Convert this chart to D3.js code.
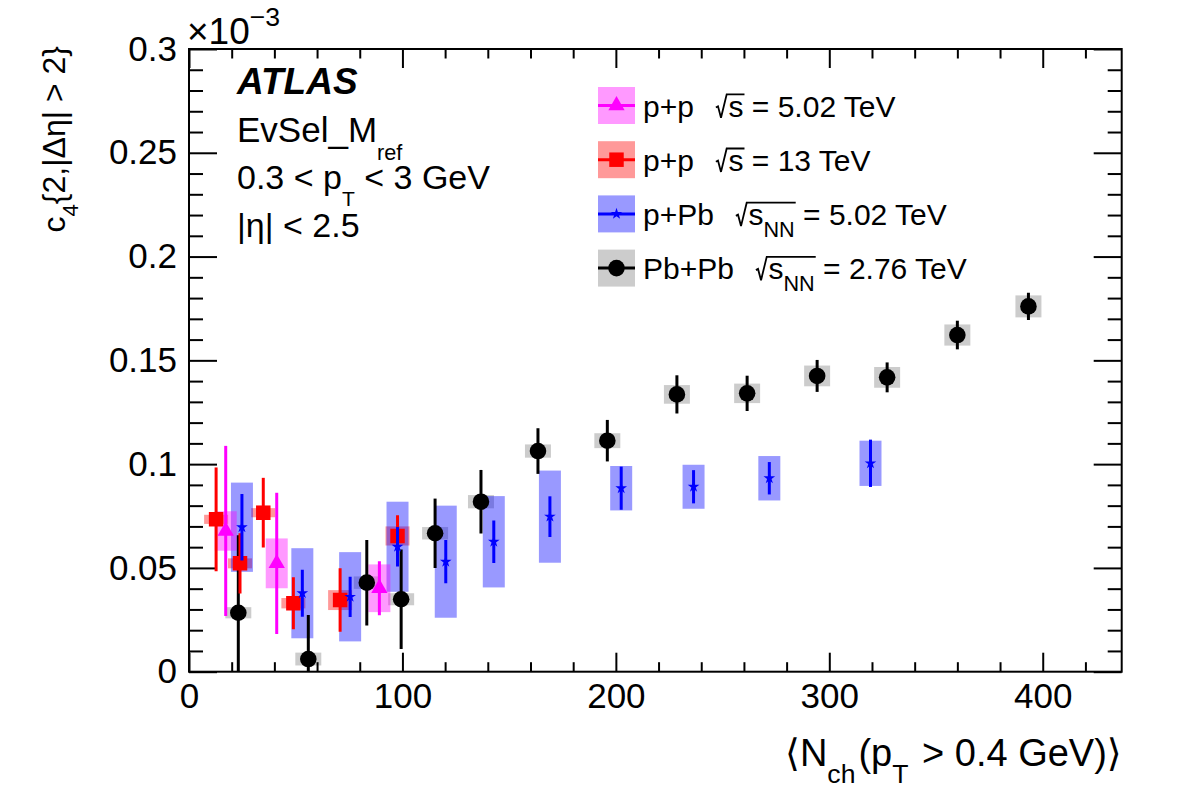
<!DOCTYPE html>
<html><head><meta charset="utf-8">
<script src="https://cdn.jsdelivr.net/npm/d3@7"></script>
<style>
body{margin:0;background:#fff}
text{font-family:"Liberation Sans",Arial,Helvetica,"DejaVu Sans",sans-serif;fill:#000;white-space:pre}
</style>
</head><body>
<svg id="c" width="1182" height="800" xmlns="http://www.w3.org/2000/svg"></svg>
<script>
// ---------------- data (c4 values in units of 10^-3) ----------------
const xTicks = [0, 100, 200, 300, 400];
const xTickLabels = ["0", "100", "200", "300", "400"];
const yTicks = [0, 0.05, 0.1, 0.15, 0.2, 0.25, 0.3];
const yTickLabels = ["0", "0.05", "0.1", "0.15", "0.2", "0.25", "0.3"];

const pp502_x    = [17.2, 41.1, 89.2];
const pp502_y    = [0.0678, 0.0522, 0.0402];
const pp502_stat = [0.041, 0.034, 0.013];
const pp502_sys  = [0.0095, 0.012, 0.0115];

const pp13_x    = [12.7, 23.9, 34.8, 48.9, 70.8, 97.7];
const pp13_y    = [0.0734, 0.0522, 0.0766, 0.0330, 0.0345, 0.0654];
const pp13_stat = [0.025, 0.0145, 0.0168, 0.0125, 0.0153, 0.0100];
const pp13_sys  = [0.0022, 0.0024, 0.0022, 0.0025, 0.0048, 0.0046];

const pPb_x    = [24.8, 53.1, 75.5, 97.7, 120.3, 142.8, 169.1, 202.5, 236.4, 271.9, 319.3];
const pPb_y    = [0.0696, 0.0378, 0.0361, 0.0602, 0.0530, 0.0626, 0.0747, 0.0884, 0.0891, 0.0932, 0.1004];
const pPb_stat = [0.016, 0.0113, 0.0097, 0.0095, 0.0104, 0.0102, 0.0098, 0.0104, 0.0080, 0.0078, 0.0114];
const pPb_sys  = [0.0215, 0.0217, 0.0215, 0.0217, 0.027, 0.022, 0.0222, 0.0107, 0.0106, 0.0107, 0.0109];

const PbPb_x    = [23.1, 55.9, 83.3, 99.4, 115.3, 136.8, 163.5, 196.0, 228.6, 261.5, 294.3, 327.1, 360.0, 393.3];
const PbPb_y    = [0.0284, 0.0061, 0.0429, 0.0349, 0.0667, 0.0819, 0.1063, 0.1113, 0.1336, 0.1341, 0.1425, 0.1418, 0.1622, 0.1760];
const PbPb_stat = [0.0373, 0.0212, 0.0206, 0.0240, 0.0167, 0.0153, 0.0110, 0.0100, 0.0092, 0.0085, 0.0077, 0.0072, 0.0069, 0.0066];
const PbPb_sys  = [0.0027, 0.0031, 0.0030, 0.0029, 0.0030, 0.0032, 0.0032, 0.0036, 0.0045, 0.0047, 0.0050, 0.0050, 0.0051, 0.0053];

// ---------------- layout ----------------
const svg = d3.select("#c");
const L = 189, R = 1121.7, T = 49, B = 671.7;
const x = d3.scaleLinear().domain([0, 437]).range([L, R]);
const y = d3.scaleLinear().domain([0, 0.3]).range([B, T]);

const zip = (xs, ys, st, sy) => xs.map((v, i) => ({x: v, y: ys[i], stat: st[i], sys: sy[i]}));
const series = {
  PbPb: {data: zip(PbPb_x, PbPb_y, PbPb_stat, PbPb_sys), color: "#000000", boxFill: "#000000", boxOp: 0.2, boxW: 26, sym: d3.symbolCircle, size: 216},
  pp13: {data: zip(pp13_x, pp13_y, pp13_stat, pp13_sys), color: "#ff0000", boxFill: "#ff0000", boxOp: 0.4, boxW: 24, sym: d3.symbolSquare, size: 210},
  pPb:  {data: zip(pPb_x, pPb_y, pPb_stat, pPb_sys), color: "#0000ff", boxFill: "#0000ff", boxOp: 0.4, boxW: 22, sym: d3.symbolStar, size: 42},
  pp502:{data: zip(pp502_x, pp502_y, pp502_stat, pp502_sys), color: "#ff00ff", boxFill: "#ff00ff", boxOp: 0.4, boxW: 22, sym: d3.symbolTriangle, size: 115}
};
const drawOrder = ["PbPb", "pp13", "pPb", "pp502"];

// rich text helper
function rich(parent, segs, opt) {
  const size = opt.size;
  const g = parent.append("g");
  let cx = 0;
  const rads = [];
  segs.forEach(s => {
    if (s.k === "rad") {
      const r0 = cx;
      cx += size * 0.42;
      rads.push({x0: r0, x1: cx});
      return;
    }
    const sub = s.k === "sub", sup = s.k === "sup";
    const fs = (sub || sup) ? size * (opt.subScale || 0.7) : size;
    const dy = sub ? size * (opt.subDrop || 0.45) : sup ? -size * (opt.supRise || 0.6) : 0;
    const t = g.append("text").attr("x", cx).attr("y", dy).attr("font-size", fs)
      .attr("xml:space", "preserve").text(s.t);
    if (opt.weight) t.attr("font-weight", opt.weight);
    if (opt.style) t.attr("font-style", opt.style);
    const w = t.node().getComputedTextLength();
    cx += w + ((sub && opt.subGap) ? opt.subGap : 0);
    if (s.o && rads.length) rads[rads.length - 1].x1 = cx + 1;
  });
  rads.forEach(r => {
    const h = size * 0.74;
    g.append("path")
      .attr("d", `M${r.x0},${-size*0.30} L${r.x0+size*0.07},${-size*0.34} L${r.x0+size*0.17},${size*0.04} L${r.x0+size*0.36},${-h} L${r.x1},${-h}`)
      .attr("fill", "none").attr("stroke", "#000").attr("stroke-width", 1.8).attr("stroke-linejoin", "miter");
  });
  return {g, width: cx};
}

// ---------------- axes ----------------
const xMinor = d3.range(0, 437, 20).filter(v => v % 100 !== 0);
const yMinor = d3.range(0, 31).map(i => i / 100).filter(v => Math.round(v * 100) % 5 !== 0);

function styleAxis(sel) {
  sel.select(".domain").remove();
  sel.selectAll(".tick line").attr("stroke", "#000").attr("stroke-width", 2);
  sel.selectAll(".tick text").attr("font-size", 35).attr("fill", "#000")
     .attr("font-family", '"Liberation Sans",Arial,sans-serif');
}
// bottom
svg.append("g").attr("transform", `translate(0,${B})`)
  .call(d3.axisBottom(x).tickValues(xTicks).tickSize(-19).tickPadding(11).tickFormat((d, i) => xTickLabels[i]))
  .call(styleAxis);
svg.append("g").attr("transform", `translate(0,${B})`)
  .call(d3.axisBottom(x).tickValues(xMinor).tickSize(-9.5).tickFormat(""))
  .call(styleAxis);
// top
svg.append("g").attr("transform", `translate(0,${T})`)
  .call(d3.axisTop(x).tickValues(xTicks).tickSize(-19).tickFormat(""))
  .call(styleAxis);
svg.append("g").attr("transform", `translate(0,${T})`)
  .call(d3.axisTop(x).tickValues(xMinor).tickSize(-9.5).tickFormat(""))
  .call(styleAxis);
// left
svg.append("g").attr("transform", `translate(${L},0)`)
  .call(d3.axisLeft(y).tickValues(yTicks).tickSize(-28).tickPadding(12).tickFormat((d, i) => yTickLabels[i]))
  .call(styleAxis);
svg.append("g").attr("transform", `translate(${L},0)`)
  .call(d3.axisLeft(y).tickValues(yMinor).tickSize(-14).tickFormat(""))
  .call(styleAxis);
// right
svg.append("g").attr("transform", `translate(${R},0)`)
  .call(d3.axisRight(y).tickValues(yTicks).tickSize(-28).tickFormat(""))
  .call(styleAxis);
svg.append("g").attr("transform", `translate(${R},0)`)
  .call(d3.axisRight(y).tickValues(yMinor).tickSize(-14).tickFormat(""))
  .call(styleAxis);

// ---------------- data ----------------
svg.append("clipPath").attr("id", "clip").append("rect")
  .attr("x", L).attr("y", T).attr("width", R - L).attr("height", B - T);
const plot = svg.append("g").attr("clip-path", "url(#clip)");

// systematic boxes
drawOrder.forEach(k => {
  const s = series[k];
  plot.append("g").selectAll("rect").data(s.data).join("rect")
    .attr("x", d => x(d.x) - s.boxW / 2)
    .attr("y", d => y(d.y + d.sys))
    .attr("width", s.boxW)
    .attr("height", d => y(d.y - d.sys) - y(d.y + d.sys))
    .attr("fill", s.boxFill).attr("fill-opacity", s.boxOp);
});
// stat bars + markers
drawOrder.forEach(k => {
  const s = series[k];
  const g = plot.append("g");
  g.selectAll("line").data(s.data).join("line")
    .attr("x1", d => x(d.x)).attr("x2", d => x(d.x))
    .attr("y1", d => y(d.y + d.stat)).attr("y2", d => y(d.y - d.stat))
    .attr("stroke", s.color).attr("stroke-width", 3);
  g.selectAll("path").data(s.data).join("path")
    .attr("transform", d => `translate(${x(d.x)},${y(d.y)})`)
    .attr("d", d3.symbol().type(s.sym).size(s.size))
    .attr("fill", s.color);
});

// frame
svg.append("rect").attr("x", L).attr("y", T).attr("width", R - L).attr("height", B - T)
  .attr("fill", "none").attr("stroke", "#000").attr("stroke-width", 2);

// ---------------- texts ----------------
const ex = rich(svg, [{t: "\u00d710"}, {t: "\u22123", k: "sup"}], {size: 37, subScale: 0.72, supRise: 0.5});
ex.g.attr("transform", "translate(187,44)");

const xt = rich(svg, [{t: "\u27e8N"}, {t: "ch", k: "sub"}, {t: "(p"}, {t: "T", k: "sub"}, {t: " > 0.4 GeV)\u27e9"}],
  {size: 38, subDrop: 0.45, subGap: 3});
xt.g.attr("transform", `translate(${R - xt.width},766)`);

const ytg = svg.append("g").attr("transform", "translate(65,46) rotate(-90)");
const yt = rich(ytg, [{t: "c"}, {t: "4", k: "sub"}, {t: "{2,|\u0394\u03b7| > 2}"}], {size: 32, subDrop: 0.4});
yt.g.attr("transform", `translate(${-yt.width},0)`);

rich(svg, [{t: "ATLAS"}], {size: 37, weight: "bold", style: "italic"}).g.attr("transform", "translate(237,94)");
rich(svg, [{t: "EvSel_M"}, {t: "ref", k: "sub"}], {size: 35, subDrop: 0.5, subScale: 0.62}).g.attr("transform", "translate(237,142)");
rich(svg, [{t: "0.3 < p"}, {t: "T", k: "sub"}, {t: " < 3 GeV"}], {size: 34, subDrop: 0.5, subScale: 0.62}).g.attr("transform", "translate(237,189)");
rich(svg, [{t: "|\u03b7| < 2.5"}], {size: 34}).g.attr("transform", "translate(237,237)");

// ---------------- legend ----------------
const legendKeys = ["pp502", "pp13", "pPb", "PbPb"];
const legendNames = ["p+p", "p+p", "p+Pb", "Pb+Pb"];
const legendEnergy = [
  [{k: "rad"}, {t: "s", o: true}, {t: " = 5.02 TeV"}],
  [{k: "rad"}, {t: "s", o: true}, {t: " = 13 TeV"}],
  [{k: "rad"}, {t: "s", o: true}, {t: "NN", k: "sub", o: true}, {t: " = 5.02 TeV"}],
  [{k: "rad"}, {t: "s", o: true}, {t: "NN", k: "sub", o: true}, {t: " = 2.76 TeV"}]
];
const leg = svg.append("g");
legendKeys.forEach((k, i) => {
  const s = series[k];
  const cy = 105.5 + i * 54.2;
  leg.append("rect").attr("x", 598).attr("y", cy - 18.5).attr("width", 37).attr("height", 37)
    .attr("fill", s.boxFill).attr("fill-opacity", s.boxOp);
  leg.append("line").attr("x1", 598).attr("x2", 635).attr("y1", cy).attr("y2", cy)
    .attr("stroke", s.color).attr("stroke-width", 3);
  leg.append("path").attr("transform", `translate(616.5,${cy})`)
    .attr("d", d3.symbol().type(s.sym).size(s.size)).attr("fill", s.color);
  const nm = rich(leg, [{t: legendNames[i]}], {size: 30});
  nm.g.attr("transform", `translate(643,${cy + 11})`);
  const en = rich(leg, legendEnergy[i], {size: 30, subDrop: 0.4, subScale: 0.72});
  en.g.attr("transform", `translate(${643 + nm.width + 22},${cy + 11})`);
});
</script>
</body></html>
